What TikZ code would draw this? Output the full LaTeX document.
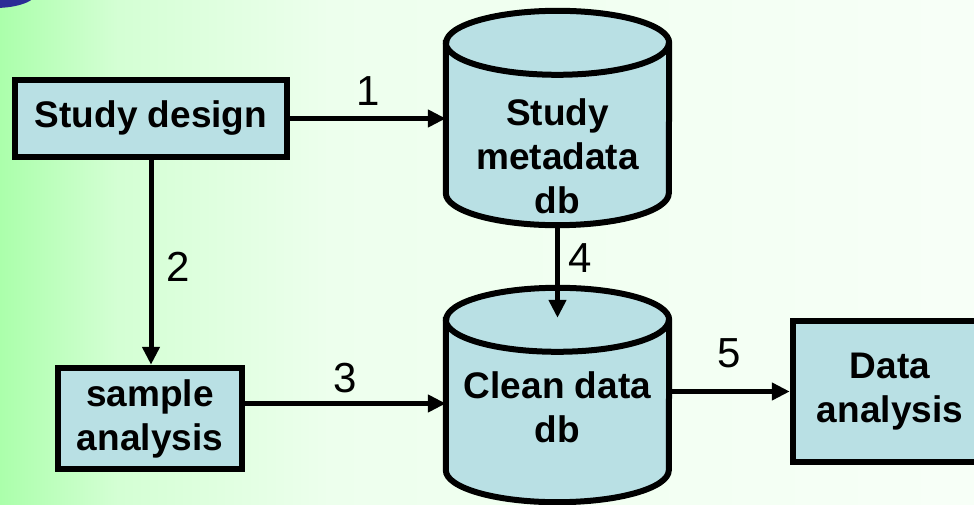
\documentclass[tikz,border=0pt]{standalone}
\usepackage{fontspec}
\setmainfont{Liberation Sans}
\usetikzlibrary{calc,arrows.meta}

\definecolor{boxblue}{RGB}{185,224,228}
\definecolor{logoblue}{RGB}{44,44,150}
\pgfdeclarehorizontalshading{bggreen}{100bp}{color(0bp)=(green!33!white); color(25bp)=(green!33!white); color(31bp)=(green!17!white); color(42bp)=(green!7!white); color(75bp)=(green!3!white); color(100bp)=(green!3!white)}

\begin{document}
\begin{tikzpicture}[x=1pt, y=1pt,
        box/.style=
            {
                rectangle,
                draw = black,
                line width = 6pt,
                fill = boxblue,
                inner sep = 2pt,
                align = center,
                font = \fontsize{37}{44}\selectfont\bfseries
            },
        dbbox/.style=
            {
                rectangle,
                minimum width = 223pt,
                minimum height = 214pt,
                inner sep = 0pt
            },
        db/.style=
            {
                draw = black,
                line width = 6pt,
                fill = boxblue
            },
        dbtext/.style=
            {
                inner sep = 0pt,
                align = center,
                font = \fontsize{37}{44}\selectfont\bfseries
            },
        flow/.style=
            {
                line width = 5pt,
                -{Triangle[length=18pt, width=17pt]}
            },
        num/.style=
            {
                inner sep = 0pt,
                font = \fontsize{42}{42}\selectfont
            }
    ]

    \useasboundingbox (0,0) rectangle (974,504);
    \clip (0,0) rectangle (974,504);
    \shade[shading=bggreen] (0,0) rectangle (974,504);
    \fill[logoblue] (-5,512) ellipse [x radius=42pt, y radius=16pt];

    \draw (151,385.5) node[box, minimum width=272.5pt, minimum height=77.5pt] (design) {Study design};
    \draw (150,85.5) node[box, minimum width=184.5pt, minimum height=101.5pt] (sample) {sample\\analysis};
    \draw (890,112.5) node[box, minimum width=194.5pt, minimum height=141.5pt] (data) {Data\\analysis};

    \draw (557.5,386) node[dbbox] (meta) {};
    \draw[db] ([yshift=-32pt]meta.north west) -- ([yshift=32pt]meta.south west)
        arc[start angle=180, end angle=360, x radius=111.5pt, y radius=32pt]
        -- ([yshift=-32pt]meta.north east)
        arc[start angle=0, end angle=180, x radius=111.5pt, y radius=32pt] -- cycle;
    \draw[db, fill=none] ([yshift=-32pt]meta.north west)
        arc[start angle=180, end angle=360, x radius=111.5pt, y radius=32pt];
    \draw ([yshift=-38pt]meta.center) node[dbtext] (metatext) {Study\\metadata\\db};

    \draw (557.5,109) node[dbbox] (clean) {};
    \draw[db] ([yshift=-32pt]clean.north west) -- ([yshift=32pt]clean.south west)
        arc[start angle=180, end angle=360, x radius=111.5pt, y radius=32pt]
        -- ([yshift=-32pt]clean.north east)
        arc[start angle=0, end angle=180, x radius=111.5pt, y radius=32pt] -- cycle;
    \draw[db, fill=none] ([yshift=-32pt]clean.north west)
        arc[start angle=180, end angle=360, x radius=111.5pt, y radius=32pt];
    \draw ([yshift=-12pt]clean.center) node[dbtext] (cleantext) {Clean data\\db};

    \draw[flow] (design.east) -- (design.east -| meta.west) node[num, midway, above=10pt] {1};
    \draw[flow] (design.south) -- (design.south |- sample.north) node[num, pos=0.52, right=13pt] {2};
    \draw[flow] ([yshift=15pt]sample.east) -- ([yshift=15pt]sample.east -| clean.west) node[num, midway, above=8pt] {3};
    \draw[flow] (meta.south) -- ([yshift=-30pt]clean.north) node[num, pos=0.36, right=8pt] {4};
    \draw[flow] (clean.east |- data.west) -- (data.west) node[num, midway, above=21pt] {5};

\end{tikzpicture}
\end{document}
